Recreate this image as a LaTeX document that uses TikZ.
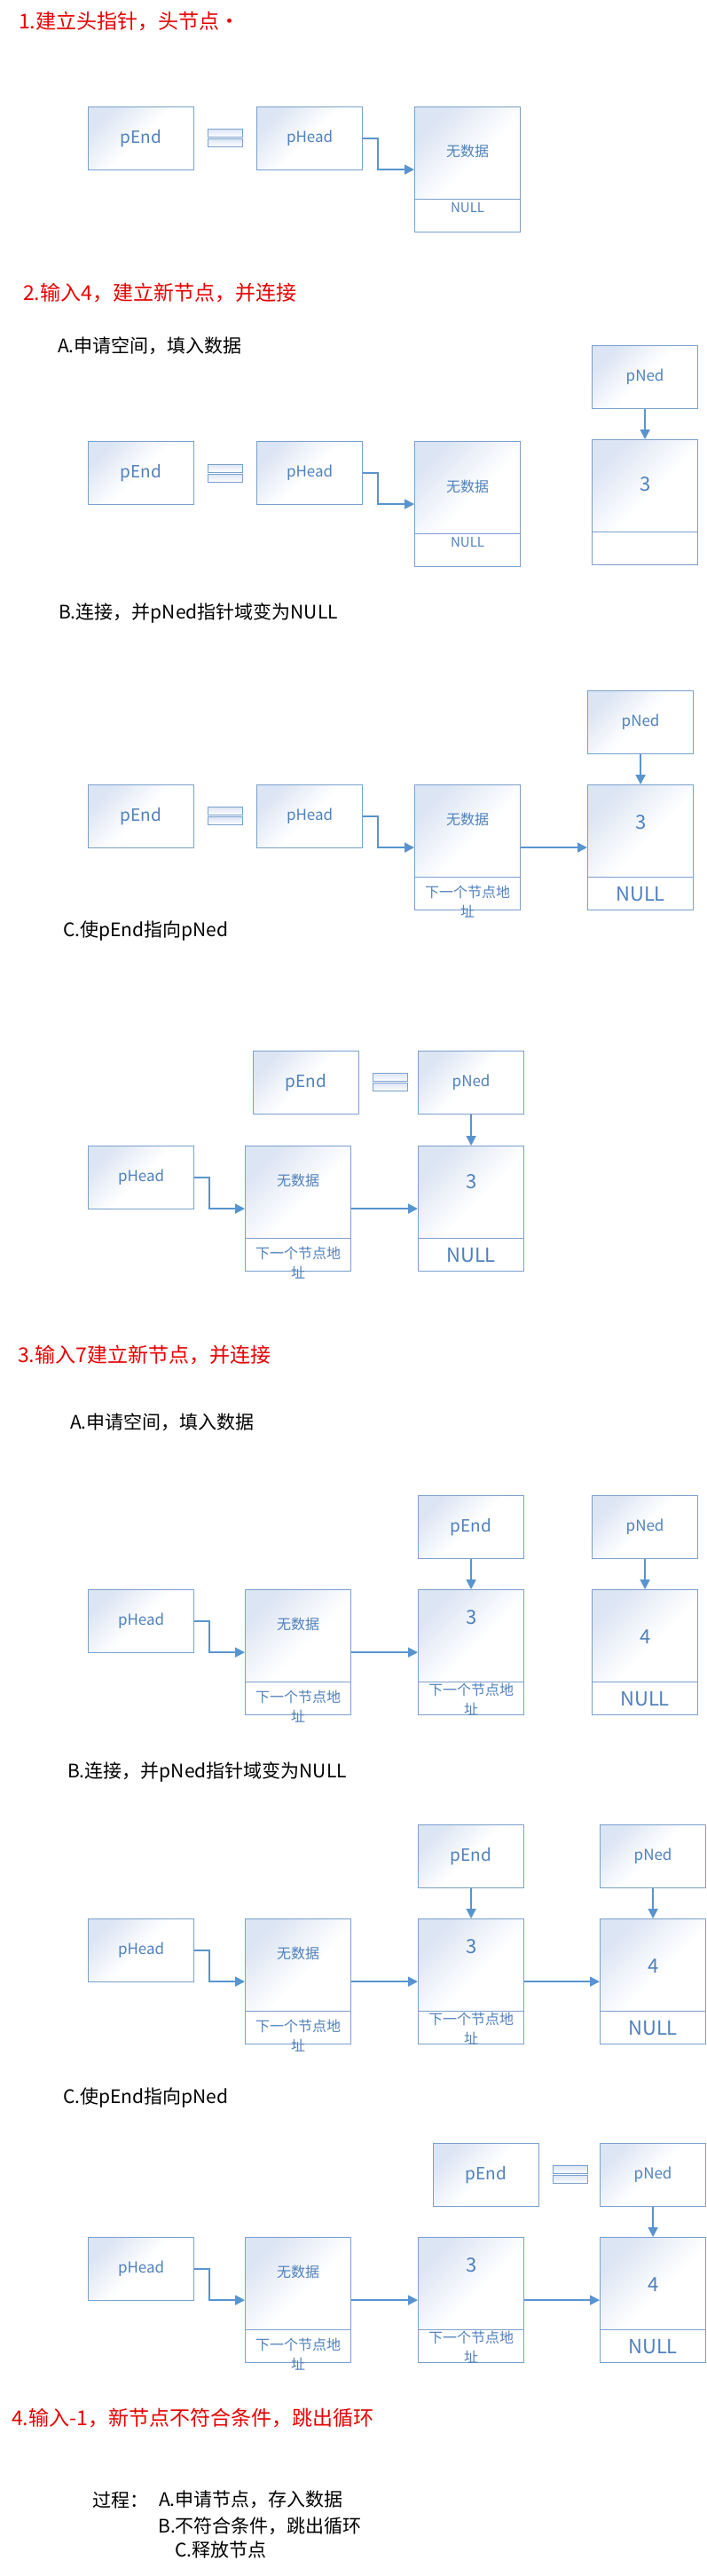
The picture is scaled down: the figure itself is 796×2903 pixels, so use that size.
\documentclass[tikz,border=0pt]{standalone}
\usepackage{fontspec}
\setmainfont{Noto Sans CJK SC}
\usetikzlibrary{arrows.meta,positioning}
\definecolor{boxline}{RGB}{122,160,205}
\definecolor{boxtop}{RGB}{220,229,244}
\definecolor{boxtext}{RGB}{79,129,189}
\definecolor{linkblue}{RGB}{88,148,207}
\definecolor{titlered}{RGB}{232,0,0}

\begin{document}
\begin{tikzpicture}[x=1pt,y=1pt,
    ptrbox/.style={draw=boxline, line width=1.2pt, top color=boxtop, bottom color=white, middle color=white,
      shading angle=45, minimum width=119pt, minimum height=71pt, inner sep=0pt, anchor=north west,
      text=boxtext, font=\fontsize{17}{20}\selectfont},
    endbox/.style={ptrbox, font=\fontsize{19}{22}\selectfont},
    listnode/.style={draw=boxline, line width=1.2pt, fill=white, minimum width=119pt, minimum height=141pt,
      inner sep=0pt, anchor=north west,
      path picture={
        \shade[top color=boxtop, bottom color=white, middle color=white, shading angle=45]
          (path picture bounding box.north west) rectangle ([yshift=37pt]path picture bounding box.south east);
        \draw[boxline, line width=1.2pt] ([yshift=37pt]path picture bounding box.south west)
          -- ([yshift=37pt]path picture bounding box.south east);}},
    eqbar/.style={draw=boxline, line width=1pt, top color=boxtop, bottom color=white,
      minimum width=39pt, minimum height=9pt, inner sep=0pt},
    datatext/.style={text=boxtext, inner sep=0pt, font=\fontsize{16}{19}\selectfont},
    numtext/.style={text=boxtext, inner sep=0pt, font=\fontsize{22}{24}\selectfont},
    nulltext/.style={text=boxtext, inner sep=0pt, font=\fontsize{15}{18}\selectfont},
    bignull/.style={text=boxtext, inner sep=0pt, font=\fontsize{22}{24}\selectfont},
    addrtext/.style={text=boxtext, inner sep=0pt, align=center, font=\fontsize{16}{22}\selectfont},
    redtitle/.style={text=titlered, inner sep=0pt, anchor=west, font=\fontsize{23}{26}\selectfont},
    subtitle/.style={text=black, inner sep=0pt, anchor=west, font=\fontsize{21}{24}\selectfont},
    link/.style={draw=linkblue, line width=1.8pt, -{Triangle[length=11pt,width=11pt]}}]
  \useasboundingbox[fill=white] (0,0) rectangle (796,-2903);

  % 1. head pointer and head node
  \node[redtitle] (t1) at (21,-24) {1.建立头指针，头节点·};
  \node[endbox] (e1) at (99,-120) {pEnd};
  \node[eqbar] (q1a) at (253.5,-150) {};
  \node[eqbar] (q1b) at (253.5,-161) {};
  \node[ptrbox] (h1) at (289,-120) {pHead};
  \node[listnode] (a1) at (467,-120) {};
  \node[datatext] (a1d) at ([yshift=-50pt]a1.north) {无数据};
  \node[nulltext] (a1p) at ([yshift=28pt]a1.south) {NULL};
  \draw[link] (h1.east) -- ++(17,0) |- (a1.west);

  % 2A
  \node[redtitle] (t2) at (26,-330) {2.输入4，建立新节点，并连接};
  \node[subtitle] (s2) at (65,-390) {A.申请空间，填入数据};
  \node[ptrbox] (d2) at (667,-389) {pNed};
  \node[listnode] (b2) at (667,-495) {};
  \node[numtext] (b2d) at ([yshift=-51pt]b2.north) {3};
  \node[endbox] (e2) at (99,-497) {pEnd};
  \node[eqbar] (q2a) at (253.5,-527.5) {};
  \node[eqbar] (q2b) at (253.5,-538.5) {};
  \node[ptrbox] (h2) at (289,-497) {pHead};
  \node[listnode] (a2) at (467,-497) {};
  \node[datatext] (a2d) at ([yshift=-51pt]a2.north) {无数据};
  \node[nulltext] (a2p) at ([yshift=28pt]a2.south) {NULL};
  \draw[link] (h2.east) -- ++(17,0) |- (a2.west);
  \draw[link] (d2.south) -- (b2.north);

  % 2B
  \node[subtitle] (s3) at (66,-691) {B.连接，并pNed指针域变为NULL};
  \node[ptrbox] (d3) at (662,-778) {pNed};
  \node[endbox] (e3) at (99,-884) {pEnd};
  \node[eqbar] (q3a) at (253.5,-914) {};
  \node[eqbar] (q3b) at (253.5,-925) {};
  \node[ptrbox] (h3) at (289,-884) {pHead};
  \node[listnode] (a3) at (467,-884) {};
  \node[datatext] (a3d) at ([yshift=-39pt]a3.north) {无数据};
  \node[addrtext] (a3p) at ([yshift=10pt]a3.south) {下一个节点地\\址};
  \node[listnode] (b3) at (662,-884) {};
  \node[numtext] (b3d) at ([yshift=-43pt]b3.north) {3};
  \node[bignull] (b3p) at ([yshift=18.5pt]b3.south) {NULL};
  \draw[link] (h3.east) -- ++(17,0) |- (a3.west);
  \draw[link] (a3.east) -- (b3.west);
  \draw[link] (d3.south) -- (b3.north);

  % 2C
  \node[subtitle] (s4) at (71,-1049) {C.使pEnd指向pNed};
  \node[endbox] (e4) at (285,-1184) {pEnd};
  \node[eqbar] (q4a) at (439.5,-1214) {};
  \node[eqbar] (q4b) at (439.5,-1225) {};
  \node[ptrbox] (d4) at (471,-1184) {pNed};
  \node[ptrbox] (h4) at (99,-1291) {pHead};
  \node[listnode] (a4) at (276,-1291) {};
  \node[datatext] (a4d) at ([yshift=-39pt]a4.north) {无数据};
  \node[addrtext] (a4p) at ([yshift=10pt]a4.south) {下一个节点地\\址};
  \node[listnode] (b4) at (471,-1291) {};
  \node[numtext] (b4d) at ([yshift=-41pt]b4.north) {3};
  \node[bignull] (b4p) at ([yshift=18.5pt]b4.south) {NULL};
  \draw[link] (d4.south) -- (b4.north);
  \draw[link] (h4.east) -- ++(17,0) |- (a4.west);
  \draw[link] (a4.east) -- (b4.west);

  % 3A
  \node[redtitle] (t5) at (20,-1527) {3.输入7建立新节点，并连接};
  \node[subtitle] (s5) at (79,-1603) {A.申请空间，填入数据};
  \node[endbox] (e5) at (471,-1685) {pEnd};
  \node[ptrbox] (d5) at (667,-1685) {pNed};
  \node[ptrbox] (h5) at (99,-1791) {pHead};
  \node[listnode] (a5) at (276,-1791) {};
  \node[datatext] (a5d) at ([yshift=-39pt]a5.north) {无数据};
  \node[addrtext] (a5p) at ([yshift=10pt]a5.south) {下一个节点地\\址};
  \node[listnode] (b5) at (471,-1791) {};
  \node[numtext] (b5d) at ([yshift=-32pt]b5.north) {3};
  \node[addrtext] (b5p) at ([yshift=18.5pt]b5.south) {下一个节点地\\址};
  \node[listnode] (c5) at (667,-1791) {};
  \node[numtext] (c5d) at ([yshift=-54pt]c5.north) {4};
  \node[bignull] (c5p) at ([yshift=18.5pt]c5.south) {NULL};
  \draw[link] (e5.south) -- (b5.north);
  \draw[link] (d5.south) -- (c5.north);
  \draw[link] (h5.east) -- ++(17,0) |- (a5.west);
  \draw[link] (a5.east) -- (b5.west);

  % 3B
  \node[subtitle] (s6) at (76,-1997) {B.连接，并pNed指针域变为NULL};
  \node[endbox] (e6) at (471,-2056) {pEnd};
  \node[ptrbox] (d6) at (676,-2056) {pNed};
  \node[ptrbox] (h6) at (99,-2162) {pHead};
  \node[listnode] (a6) at (276,-2162) {};
  \node[datatext] (a6d) at ([yshift=-39pt]a6.north) {无数据};
  \node[addrtext] (a6p) at ([yshift=10pt]a6.south) {下一个节点地\\址};
  \node[listnode] (b6) at (471,-2162) {};
  \node[numtext] (b6d) at ([yshift=-32pt]b6.north) {3};
  \node[addrtext] (b6p) at ([yshift=18.5pt]b6.south) {下一个节点地\\址};
  \node[listnode] (c6) at (676,-2162) {};
  \node[numtext] (c6d) at ([yshift=-54pt]c6.north) {4};
  \node[bignull] (c6p) at ([yshift=18.5pt]c6.south) {NULL};
  \draw[link] (e6.south) -- (b6.north);
  \draw[link] (d6.south) -- (c6.north);
  \draw[link] (h6.east) -- ++(17,0) |- (a6.west);
  \draw[link] (a6.east) -- (b6.west);
  \draw[link] (b6.east) -- (c6.west);

  % 3C
  \node[subtitle] (s7) at (71,-2364) {C.使pEnd指向pNed};
  \node[endbox] (e7) at (488,-2415) {pEnd};
  \node[eqbar] (q7a) at (642.5,-2445) {};
  \node[eqbar] (q7b) at (642.5,-2456) {};
  \node[ptrbox] (d7) at (676,-2415) {pNed};
  \node[ptrbox] (h7) at (99,-2521) {pHead};
  \node[listnode] (a7) at (276,-2521) {};
  \node[datatext] (a7d) at ([yshift=-39pt]a7.north) {无数据};
  \node[addrtext] (a7p) at ([yshift=10pt]a7.south) {下一个节点地\\址};
  \node[listnode] (b7) at (471,-2521) {};
  \node[numtext] (b7d) at ([yshift=-32pt]b7.north) {3};
  \node[addrtext] (b7p) at ([yshift=18.5pt]b7.south) {下一个节点地\\址};
  \node[listnode] (c7) at (676,-2521) {};
  \node[numtext] (c7d) at ([yshift=-54pt]c7.north) {4};
  \node[bignull] (c7p) at ([yshift=18.5pt]c7.south) {NULL};
  \draw[link] (d7.south) -- (c7.north);
  \draw[link] (h7.east) -- ++(17,0) |- (a7.west);
  \draw[link] (a7.east) -- (b7.west);
  \draw[link] (b7.east) -- (c7.west);

  % 4. input -1
  \node[redtitle] (t8) at (13,-2725) {4.输入-1，新节点不符合条件，跳出循环};
  \node[subtitle] (p1) at (104,-2817) {过程：};
  \node[subtitle] (p2) at (179,-2817) {A.申请节点，存入数据};
  \node[subtitle] (p3) at (178,-2847) {B.不符合条件，跳出循环};
  \node[subtitle] (p4) at (197,-2873) {C.释放节点};
\end{tikzpicture}
\end{document}
